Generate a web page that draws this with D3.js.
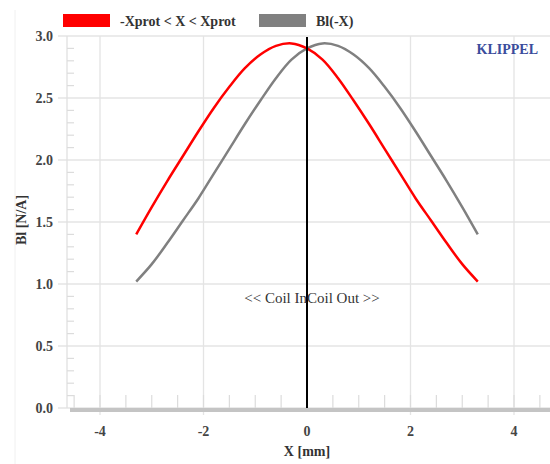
<!DOCTYPE html>
<html><head><meta charset="utf-8">
<script src="https://cdn.jsdelivr.net/npm/d3@7"></script>
<style>body{margin:0;background:#fff}svg{display:block}</style>
</head><body>
<svg id="c" width="550" height="464"></svg>
<script>
const xValues = [-3.3,-3.0,-2.7,-2.4,-2.1,-1.8,-1.5,-1.2,-0.9,-0.6,-0.3,0.0,0.3,0.6,0.9,1.2,1.5,1.8,2.1,2.4,2.7,3.0,3.3];
const redValues = [1.40,1.62,1.83,2.03,2.23,2.42,2.59,2.74,2.85,2.92,2.94,2.90,2.81,2.66,2.48,2.29,2.09,1.89,1.69,1.51,1.33,1.16,1.02];
const greyValues = [1.02,1.16,1.33,1.51,1.69,1.89,2.09,2.29,2.48,2.66,2.81,2.90,2.94,2.92,2.85,2.74,2.59,2.42,2.23,2.03,1.83,1.62,1.40];
const seriesNames = ["-Xprot < X < Xprot","Bl(-X)"];
const xTicks = [-4,-2,0,2,4];
const yTicks = [0,0.5,1.0,1.5,2.0,2.5,3.0];
const xMinor = [-4.5,-4,-3.5,-3,-2.5,-2,-1.5,-1,-0.5,0.5,1,1.5,2,2.5,3,3.5,4,4.5];
const yMinor = d3.range(1,30).map(i=>i/10);

const svg = d3.select("#c");
const font = "'Liberation Serif', 'Times New Roman', serif";
const x = d3.scaleLinear().domain([-4,4]).range([100,514]);
const y = d3.scaleLinear().domain([0,3]).range([408,36]);
const L = 67, R = 550;

// faint left border
svg.append("line").attr("x1",15).attr("x2",15).attr("y1",10).attr("y2",464).attr("stroke","#f0f0f0").attr("stroke-width",1);

// horizontal gridlines
svg.append("g").selectAll("line").data(yTicks).join("line")
  .attr("x1",58).attr("x2",R).attr("y1",d=>y(d)).attr("y2",d=>y(d))
  .attr("stroke","#e4e4e4").attr("stroke-width",1.3);
// vertical gridlines
svg.append("g").selectAll("line").data(xTicks.filter(d=>d!==0)).join("line")
  .attr("x1",d=>x(d)).attr("x2",d=>x(d)).attr("y1",y(3)).attr("y2",415)
  .attr("stroke","#e4e4e4").attr("stroke-width",1.3);
// y axis line
svg.append("line").attr("x1",L).attr("x2",L).attr("y1",y(3)).attr("y2",y(0)).attr("stroke","#e0e0e0").attr("stroke-width",1.3);
// y minor ticks
svg.append("g").selectAll("line").data(yMinor.filter(d=>Math.abs(d*2-Math.round(d*2))>1e-6)).join("line")
  .attr("x1",L).attr("x2",L+7).attr("y1",d=>y(d)).attr("y2",d=>y(d))
  .attr("stroke","#dcdcdc").attr("stroke-width",1.2);
// x minor ticks
svg.append("g").selectAll("line").data(xMinor).join("line")
  .attr("x1",d=>x(d)).attr("x2",d=>x(d)).attr("y1",y(0)-13).attr("y2",y(0))
  .attr("stroke","#dcdcdc").attr("stroke-width",1.2);
// x baseline
svg.append("line").attr("x1",70).attr("x2",R).attr("y1",410).attr("y2",410).attr("stroke","#c4c4c4").attr("stroke-width",4);

// y tick labels
svg.append("g").selectAll("text").data(yTicks).join("text")
  .attr("x",53).attr("y",d=>y(d)+5).attr("text-anchor","end")
  .attr("font-family",font).attr("font-size",14).attr("font-weight","bold").attr("fill","#444")
  .text(d=>d.toFixed(1));
// x tick labels
svg.append("g").selectAll("text").data(xTicks).join("text")
  .attr("x",d=>x(d)).attr("y",436).attr("text-anchor","middle")
  .attr("font-family",font).attr("font-size",14).attr("font-weight","bold").attr("fill","#444")
  .text(d=>d);
// axis titles
svg.append("text").attr("x",307).attr("y",456).attr("text-anchor","middle")
  .attr("font-family",font).attr("font-size",14).attr("font-weight","bold").attr("fill","#333").text("X [mm]");
svg.append("text").attr("transform","translate(26,220) rotate(-90)").attr("text-anchor","middle")
  .attr("font-family",font).attr("font-size",14).attr("font-weight","bold").attr("fill","#333").text("Bl [N/A]");

// curves
const line = d3.line().x((d,i)=>x(xValues[i])).y(d=>y(d)).curve(d3.curveCatmullRom.alpha(0.5));
svg.append("path").datum(greyValues).attr("d",line).attr("fill","none").attr("stroke","#808080").attr("stroke-width",2.5);
svg.append("path").datum(redValues).attr("d",line).attr("fill","none").attr("stroke","#ff0000").attr("stroke-width",2.5);

// zero line
svg.append("line").attr("x1",x(0)).attr("x2",x(0)).attr("y1",y(3)+1).attr("y2",y(0)).attr("stroke","#000").attr("stroke-width",2);

// coil labels
svg.append("text").attr("x",x(0)).attr("y",303).attr("text-anchor","end")
  .attr("font-family",font).attr("font-size",15).attr("fill","#333").text("<< Coil In");
svg.append("text").attr("x",x(0)).attr("y",303).attr("text-anchor","start")
  .attr("font-family",font).attr("font-size",15).attr("fill","#333").text("Coil Out >>");

// KLIPPEL
svg.append("text").attr("x",538).attr("y",54).attr("text-anchor","end")
  .attr("font-family",font).attr("font-size",14).attr("font-weight","bold").attr("fill","#3a4c9c").text("KLIPPEL");

// legend
const legColors = ["#ff0000","#808080"];
const legX = [63,259];
seriesNames.forEach((n,i)=>{
  svg.append("rect").attr("x",legX[i]).attr("y",14).attr("width",47).attr("height",13).attr("fill",legColors[i]);
  svg.append("text").attr("x",legX[i]+57).attr("y",26).attr("font-family",font).attr("font-size",14).attr("font-weight","bold").attr("fill","#333").text(n);
});
</script>
</body></html>
